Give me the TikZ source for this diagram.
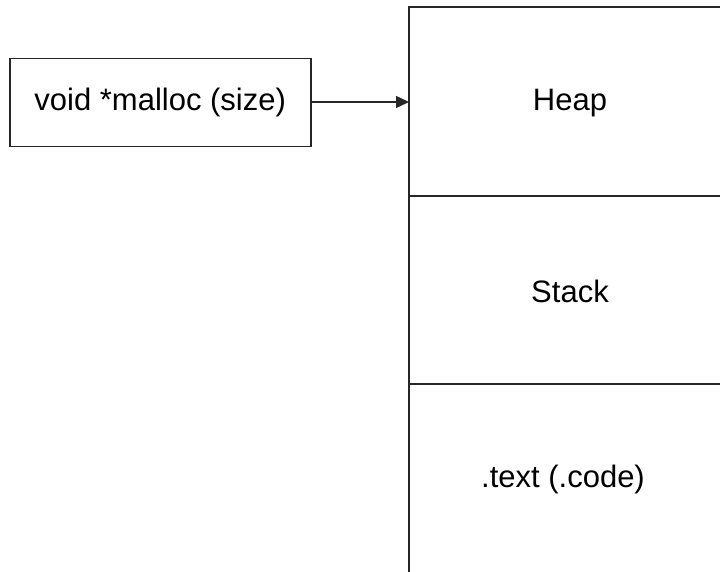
\documentclass[tikz,border=0pt]{standalone}
\usepackage{fontspec}
\setmainfont{Liberation Sans}
\usetikzlibrary{arrows.meta}
\begin{document}
\begin{tikzpicture}[x=1pt,y=-1pt,
  line/.style={draw=black!85,line width=1.5pt},
  lbl/.style={font=\fontsize{31}{35}\selectfont,inner sep=0pt}]
\useasboundingbox (0,0) rectangle (720,572);
% malloc box
\node[line,minimum width=301pt,minimum height=88pt,anchor=north west,lbl,draw] (m) at (9,58) {void *malloc (size)};
% memory block (open on right and bottom)
\coordinate (tl) at (409,7);
\coordinate (tr) at (722,7);
\coordinate (bl) at (409,574);
\draw[line] (tr) -- (tl) -- (bl);
\coordinate (d1l) at (409,196);
\coordinate (d1r) at (722,196);
\coordinate (d2l) at (409,384);
\coordinate (d2r) at (722,384);
\draw[line] (d1l) -- (d1r);
\draw[line] (d2l) -- (d2r);
\node[lbl] (heap) at (570,103) {Heap};
\node[lbl] (stack) at (570,291) {Stack};
\node[lbl] (text) at (563,479) {.text (.code)};
\coordinate (target) at (409,102);
\draw[line,-{Triangle[length=13pt,width=12pt]}] (m.east |- target) -- (target);
\end{tikzpicture}
\end{document}
